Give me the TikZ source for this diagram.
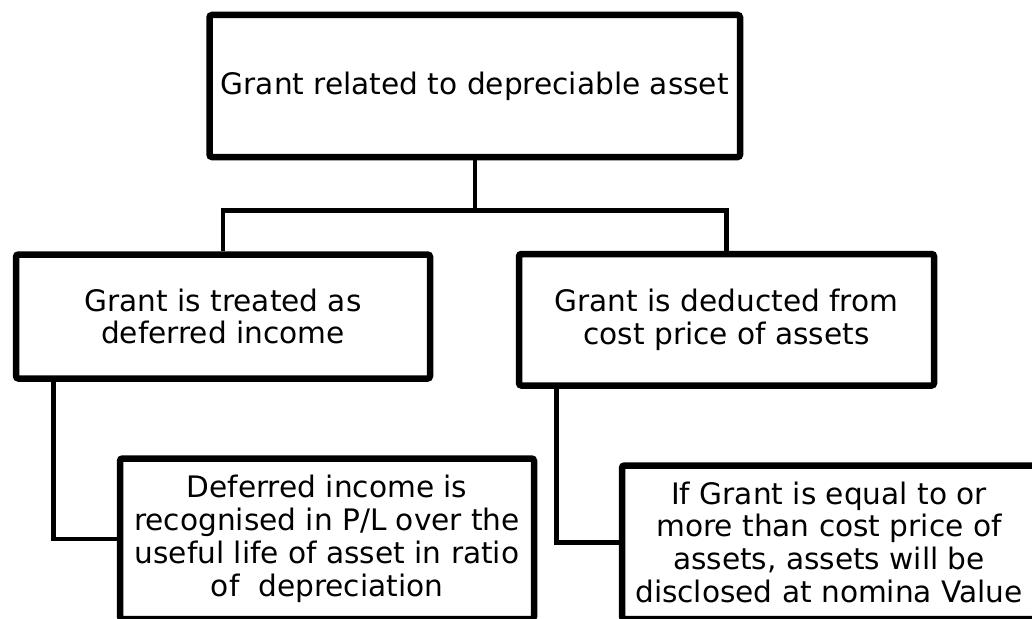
\documentclass[tikz,border=0pt]{standalone}
\usepackage{fontspec}
\setmainfont{DejaVu Sans}
\usepackage{tikz}
\usetikzlibrary{shadows}
\newcommand{\widthhead}{530.5pt}
\newcommand{\widthbranch}{414pt}
\newcommand{\dropdown}{40.5pt}
\tikzset{
    common/.style={draw, rectangle, line width=6.5pt, rounded corners=2.5pt, fill=white,
        inner sep=0pt, align=center, font=\fontsize{29.6}{32.8}\selectfont,
        drop shadow={opacity=0.18, shadow xshift=2pt, shadow yshift=-2pt}},
    head/.style={common, minimum width=\widthhead, minimum height=142pt},
    branch/.style={common, minimum width=\widthbranch},
    leaf/.style={common, minimum width=\widthbranch},
    link/.style={draw, line width=4.5pt}
}

\begin{document}
\begin{tikzpicture}
    \useasboundingbox (0,0) rectangle (1032pt,-618pt);
    \node[head] (grant) at (474.75pt,-86pt) {Grant related to depreciable asset};
    \node[branch, minimum height=124pt] (deferred) at (223pt,-316.5pt)
        {Grant is treated as\\deferred income};
    \node[branch, minimum height=131.5pt, minimum width=415pt] (deducted) at (726.5pt,-319.75pt)
        {Grant is deducted from\\cost price of assets};
    \node[leaf, minimum height=160.5pt] (recognised) at (327pt,-538.75pt)
        {Deferred income is\\recognised in P/L over the\\useful life of asset in ratio\\of\ \ depreciation};
    \node[leaf, minimum height=153.5pt] (nominal) at (829pt,-542.25pt)
        {If Grant is equal to or\\more than cost price of\\assets, assets will be\\disclosed at nomina Value};

    \path[link] (grant.south) -- ++(0,-50pt) coordinate (fork);
    \path[link] (deferred.north) |- (fork) -| (deducted.north);
    \path[link] ([xshift=\dropdown]deferred.south west) |- (recognised.west);
    \path[link] ([xshift=\dropdown]deducted.south west) |- (nominal.west);
\end{tikzpicture}
\end{document}
